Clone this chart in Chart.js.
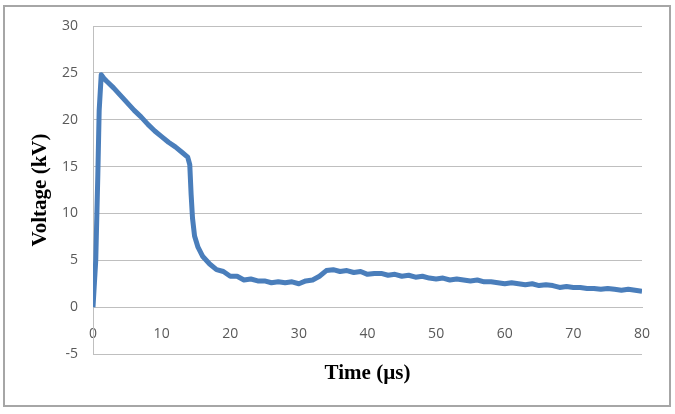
<!DOCTYPE html>
<html>
<head>
<meta charset="utf-8">
<script src="https://cdn.jsdelivr.net/npm/chart.js@4/dist/chart.umd.min.js"></script>
<style>
  html, body { margin: 0; padding: 0; background: #fff; }
  #wrap { width: 675px; height: 414px; }
</style>
</head>
<body>
<div id="wrap"><canvas id="line-chartcanvas" width="675" height="414"></canvas></div>
<script>
var times = [0, 0.4, 0.7, 0.9, 1.2, 1.6, 2, 3, 4, 5, 6, 7, 8, 9, 10, 11, 12, 13, 13.8,
    14.1, 14.3, 14.5, 14.8, 15.3, 16,
    17, 18, 19, 20, 21, 22, 23, 24, 25, 26, 27, 28, 29, 30,
    31, 32, 33, 34, 35, 36, 37, 38, 39, 40,
    41, 42, 43, 44, 45, 46, 47, 48, 49, 50,
    51, 52, 53, 54, 55, 56, 57, 58, 59, 60,
    61, 62, 63, 64, 65, 66, 67, 68, 69, 70,
    71, 72, 73, 74, 75, 76, 77, 78, 79, 80];
var volts = [0, 5, 14, 21, 24.8, 24.4, 24.1, 23.4, 22.6, 21.8, 21.0, 20.3, 19.5, 18.8, 18.2, 17.6, 17.1, 16.5, 16.0,
    15.2, 12.0, 9.5, 7.6, 6.4, 5.4,
    4.6, 4.0, 3.8, 3.3, 3.3, 2.9, 3.0, 2.8, 2.8, 2.6, 2.7, 2.6, 2.7, 2.5,
    2.8, 2.9, 3.3, 3.9, 4.0, 3.8, 3.9, 3.7, 3.8, 3.5,
    3.6, 3.6, 3.4, 3.5, 3.3, 3.4, 3.2, 3.3, 3.1, 3.0,
    3.1, 2.9, 3.0, 2.9, 2.8, 2.9, 2.7, 2.7, 2.6, 2.5,
    2.6, 2.5, 2.4, 2.5, 2.3, 2.4, 2.3, 2.1, 2.2, 2.1,
    2.1, 2.0, 2.0, 1.9, 2.0, 1.9, 1.8, 1.9, 1.8, 1.7];

var xTitle = "Time (\u00b5s)";
var yTitle = "Voltage (kV)";

var points = [];
for (let i = 0; i < times.length; i++) {
    points.push({x: times[i], y: volts[i]});
}

//draws the white background and the grey outer frame
var framePlugin = {
    id: "frame",
    beforeDraw: function(chart) {
        var c = chart.ctx;
        c.save();
        c.fillStyle = "#fff";
        c.fillRect(0, 0, chart.width, chart.height);
        c.strokeStyle = "#a6a6a6";
        c.lineWidth = 2;
        c.strokeRect(4, 6, 666, 400);
        c.restore();
    }
};

var tickFont = {family: "'Open Sans', sans-serif", size: 14};
var titleFont = {family: "'Liberation Serif', 'Times New Roman', serif", size: 21, weight: "bold"};

var chart = new Chart(document.getElementById("line-chartcanvas"), {
    type: "line",
    data: {
        datasets: [{
            data: points,
            borderColor: "#4a7ebb",
            borderWidth: 5,
            pointRadius: 0,
            tension: 0,
            fill: false,
            borderJoinStyle: "round"
        }]
    },
    options: {
        responsive: false,
        animation: false,
        layout: {padding: {left: 0, top: 26, right: 33, bottom: 60}},
        plugins: {legend: {display: false}, tooltip: {enabled: false}},
        scales: {
            x: {
                type: "linear",
                position: {y: 0},
                min: 0,
                max: 80,
                grid: {display: false, drawTicks: false},
                border: {display: true, color: "#bfbfbf"},
                ticks: {stepSize: 10, color: "#595959", font: tickFont, padding: 18, maxRotation: 0},
                title: {display: true, text: xTitle, color: "#000", font: titleFont, padding: {top: 1, bottom: 0}}
            },
            y: {
                min: -5,
                max: 30,
                grid: {color: "#bfbfbf", drawTicks: false},
                border: {display: true, color: "#bfbfbf"},
                ticks: {stepSize: 5, color: "#595959", font: tickFont, padding: 15},
                title: {display: true, text: yTitle, color: "#000", font: titleFont, padding: {top: 28, bottom: 0}},
                afterFit: function(scale) { scale.width = 93; }
            }
        }
    },
    plugins: [framePlugin]
});
</script>
</body>
</html>
